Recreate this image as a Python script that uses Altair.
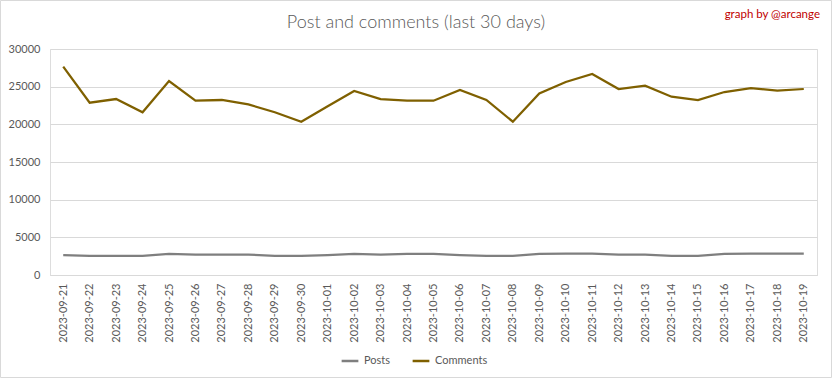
import altair as alt
import pandas as pd

dates = ["2023-09-21", "2023-09-22", "2023-09-23", "2023-09-24", "2023-09-25",
         "2023-09-26", "2023-09-27", "2023-09-28", "2023-09-29", "2023-09-30",
         "2023-10-01", "2023-10-02", "2023-10-03", "2023-10-04", "2023-10-05",
         "2023-10-06", "2023-10-07", "2023-10-08", "2023-10-09", "2023-10-10",
         "2023-10-11", "2023-10-12", "2023-10-13", "2023-10-14", "2023-10-15",
         "2023-10-16", "2023-10-17", "2023-10-18", "2023-10-19"]
posts = [2650, 2550, 2550, 2550, 2800, 2700, 2700, 2700, 2550, 2550,
         2650, 2800, 2700, 2800, 2800, 2650, 2550, 2550, 2800, 2850,
         2850, 2700, 2700, 2550, 2550, 2800, 2850, 2850, 2850]
comments = [27650, 22870, 23360, 21600, 25750, 23140, 23230, 22650, 21600, 20350,
            22400, 24420, 23360, 23140, 23140, 24560, 23230, 20350, 24110, 25620,
            26680, 24690, 25130, 23670, 23230, 24290, 24820, 24470, 24690]
series = ["Posts", "Comments"]
colors = ["#7f7f7f", "#7f6000"]
y_ticks = [0, 5000, 10000, 15000, 20000, 25000, 30000]

rows = []
for d, p, c in zip(dates, posts, comments):
    rows.append({"date": d, "series": "Posts", "value": p})
    rows.append({"date": d, "series": "Comments", "value": c})
df = pd.DataFrame(rows)

FONT = "Lato"
GREY = "#595959"

lines = alt.Chart(df).mark_line(strokeWidth=2.25).encode(
    x=alt.X("date:N", sort=dates, title=None,
            scale=alt.Scale(type="point", padding=0.5),
            axis=alt.Axis(labelAngle=-90, labelFont=FONT, labelFontSize=11,
                          labelColor=GREY, ticks=False, domainColor="#d9d9d9",
                          labelPadding=8, grid=False)),
    y=alt.Y("value:Q", title=None,
            scale=alt.Scale(domain=[0, 30000], nice=False),
            axis=alt.Axis(values=y_ticks, format="d", labelFont=FONT, labelFontSize=11,
                          labelColor=GREY, ticks=False, domain=False,
                          gridColor="#d9d9d9", labelPadding=10)),
    color=alt.Color("series:N", sort=series,
                    scale=alt.Scale(domain=series, range=colors),
                    legend=alt.Legend(title=None, orient="none", direction="horizontal",
                                      legendX=290, legendY=302,
                                      symbolType="stroke", symbolStrokeWidth=2.5,
                                      symbolSize=280, labelFont=FONT, labelFontSize=11,
                                      labelColor=GREY, columnPadding=16)),
    order=alt.Order("series:N"),
)

one = pd.DataFrame({"t": ["Post and comments (last 30 days)"], "g": ["graph by @arcange"]})

title = alt.Chart(one).mark_text(font=FONT, fontSize=18, fontWeight=300, color=GREY,
                                 align="center", baseline="middle").encode(
    text="t:N", x=alt.value(366), y=alt.value(-26))

credit = alt.Chart(one).mark_text(font=FONT, fontSize=11.5, color="#c00000",
                                  align="right", baseline="middle").encode(
    text="g:N", x=alt.value(770), y=alt.value(-34))

border = alt.Chart(one).mark_rect(fill=None, stroke="#d9d9d9", strokeWidth=1).encode(
    x=alt.value(-49.5), x2=alt.value(781.5), y=alt.value(-48.5), y2=alt.value(328.5))

chart = alt.layer(border, lines, title, credit).properties(
    width=767, height=226,
    autosize=alt.AutoSizeParams(type="none"),
    padding={"left": 50, "top": 49, "right": 15, "bottom": 103},
).configure_view(stroke=None).configure(background="white")

chart.save("out.html", embed_options={"renderer": "svg", "actions": False})
